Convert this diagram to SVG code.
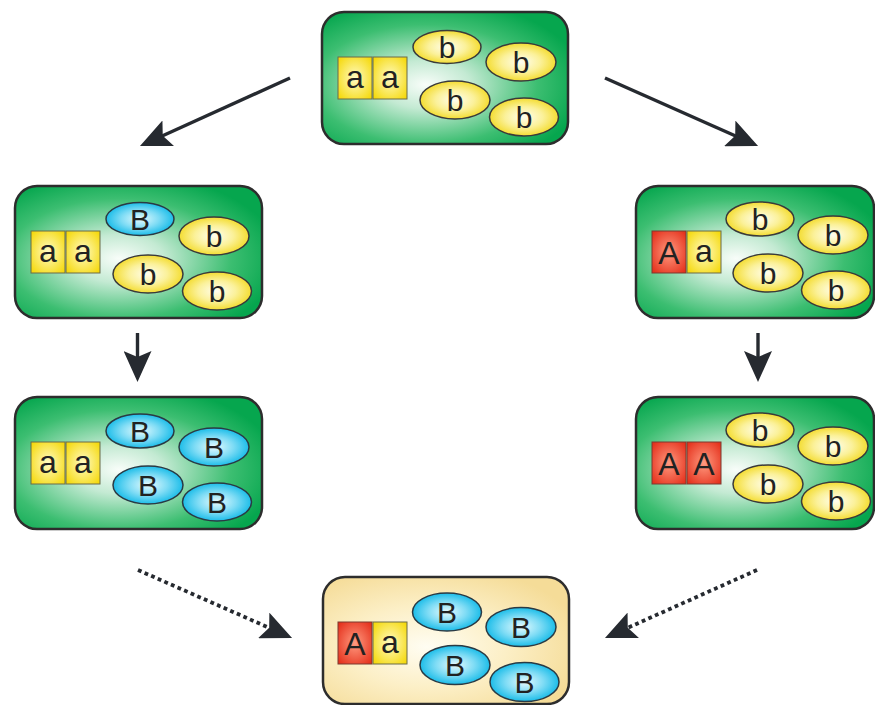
<svg xmlns="http://www.w3.org/2000/svg" xmlns:xlink="http://www.w3.org/1999/xlink" width="875" height="705" viewBox="0 0 875 705">
<defs>
<radialGradient id="gGreen" cx="0.42" cy="0.55" r="0.65">
<stop offset="0" stop-color="#f8fdf9"/>
<stop offset="0.28" stop-color="#c4ead3"/>
<stop offset="0.7" stop-color="#3cbe71"/>
<stop offset="1" stop-color="#06a64e"/>
</radialGradient>
<radialGradient id="gCream" cx="0.42" cy="0.55" r="0.65">
<stop offset="0" stop-color="#fffdf2"/>
<stop offset="0.5" stop-color="#fcefc6"/>
<stop offset="1" stop-color="#f5dc98"/>
</radialGradient>
<radialGradient id="gYSq" cx="0.5" cy="0.5" r="0.65">
<stop offset="0" stop-color="#fffbc4"/>
<stop offset="1" stop-color="#f5d90c"/>
</radialGradient>
<radialGradient id="gRSq" cx="0.5" cy="0.5" r="0.65">
<stop offset="0" stop-color="#ff9a80"/>
<stop offset="1" stop-color="#e5311c"/>
</radialGradient>
<radialGradient id="gYEl" cx="0.5" cy="0.5" r="0.55">
<stop offset="0" stop-color="#fffef0"/>
<stop offset="0.5" stop-color="#fbf19a"/>
<stop offset="1" stop-color="#f2d81a"/>
</radialGradient>
<radialGradient id="gBEl" cx="0.5" cy="0.5" r="0.55">
<stop offset="0" stop-color="#e6fbff"/>
<stop offset="0.5" stop-color="#7fdcf5"/>
<stop offset="1" stop-color="#06b6e6"/>
</radialGradient>
<marker id="head" viewBox="0 0 31 28" refX="20" refY="14" markerWidth="31" markerHeight="28" markerUnits="userSpaceOnUse" orient="auto">
<path d="M0,0 L31,14 L0,28 L6,14 Z" fill="#262a30"/>
</marker>
</defs>
<style>
.box{stroke:#2d2d2d;stroke-width:2.5}
.green{fill:url(#gGreen)}
.cream{fill:url(#gCream)}
.ysq{fill:url(#gYSq);stroke:#6b6b4a;stroke-width:1}
.rsq{fill:url(#gRSq);stroke:#7a3a30;stroke-width:1}
.yel{fill:url(#gYEl);stroke:#3a3a3a;stroke-width:1.5}
.bel{fill:url(#gBEl);stroke:#2a3a44;stroke-width:1.5}
.t{font-family:"Liberation Sans",Arial,sans-serif;fill:#222;text-anchor:middle}
.ts{font-size:32px}
.te{font-size:30px}
.arr{fill:none;stroke:#262a30;stroke-width:3.4;marker-end:url(#head)}
.dot{fill:none;stroke:#262a30;stroke-width:3.8;stroke-dasharray:3.8 3.4;marker-end:url(#head)}
</style>

<g id="connectors">
<line class="arr" x1="290" y1="78" x2="150" y2="141.5"/>
<line class="arr" x1="605" y1="78" x2="748" y2="141.5"/>
<line class="arr" x1="137.5" y1="333" x2="137.5" y2="371"/>
<line class="arr" x1="758" y1="333" x2="758" y2="371"/>
<line class="dot" x1="138" y1="570" x2="282" y2="633.5"/>
<line class="dot" x1="757" y1="570" x2="615" y2="633.5"/>
</g>

<g id="top" transform="translate(322,12)">
<rect class="box green" x="0" y="0" width="246" height="132" rx="22"/>
<rect class="ysq" x="16" y="45" width="34" height="42"/>
<rect class="ysq" x="51" y="45" width="34" height="42"/>
<text class="t ts" x="33" y="76">a</text>
<text class="t ts" x="68" y="76">a</text>
<ellipse class="yel" cx="125" cy="35" rx="34" ry="16.5"/>
<ellipse class="yel" cx="199" cy="50" rx="35" ry="19"/>
<ellipse class="yel" cx="133" cy="88" rx="35" ry="19"/>
<ellipse class="yel" cx="202" cy="105" rx="34.5" ry="19"/>
<text class="t te" x="125" y="46">b</text>
<text class="t te" x="199" y="61">b</text>
<text class="t te" x="133" y="99">b</text>
<text class="t te" x="202" y="116">b</text>
</g>

<g id="left1" transform="translate(15,186)">
<rect class="box green" x="0" y="0" width="247" height="132" rx="22"/>
<rect class="ysq" x="16" y="45" width="34" height="42"/>
<rect class="ysq" x="51" y="45" width="34" height="42"/>
<text class="t ts" x="33" y="76">a</text>
<text class="t ts" x="68" y="76">a</text>
<ellipse class="bel" cx="125" cy="33" rx="34" ry="16.5"/>
<ellipse class="yel" cx="199" cy="50" rx="35" ry="19"/>
<ellipse class="yel" cx="133" cy="88" rx="35" ry="19"/>
<ellipse class="yel" cx="202" cy="105" rx="34.5" ry="19"/>
<text class="t te" x="125" y="44">B</text>
<text class="t te" x="199" y="61">b</text>
<text class="t te" x="133" y="99">b</text>
<text class="t te" x="202" y="116">b</text>
</g>

<g id="left2" transform="translate(15,397)">
<rect class="box green" x="0" y="0" width="247" height="132" rx="22"/>
<rect class="ysq" x="16" y="45" width="34" height="42"/>
<rect class="ysq" x="51" y="45" width="34" height="42"/>
<text class="t ts" x="33" y="76">a</text>
<text class="t ts" x="68" y="76">a</text>
<ellipse class="bel" cx="125" cy="34" rx="34" ry="17"/>
<ellipse class="bel" cx="199" cy="50" rx="35" ry="19"/>
<ellipse class="bel" cx="133" cy="88" rx="35" ry="19"/>
<ellipse class="bel" cx="202" cy="105" rx="34.5" ry="19"/>
<text class="t te" x="125" y="45">B</text>
<text class="t te" x="199" y="61">B</text>
<text class="t te" x="133" y="99">B</text>
<text class="t te" x="202" y="116">B</text>
</g>

<g id="right1" transform="translate(636,186)">
<rect class="box green" x="0" y="0" width="238" height="132" rx="22"/>
<rect class="rsq" x="16" y="45" width="34" height="42"/>
<rect class="ysq" x="51" y="45" width="34" height="42"/>
<text class="t ts" x="33" y="78">A</text>
<text class="t ts" x="68" y="76">a</text>
<ellipse class="yel" cx="124" cy="33" rx="34" ry="17"/>
<ellipse class="yel" cx="197" cy="49" rx="35" ry="19"/>
<ellipse class="yel" cx="132" cy="87" rx="35" ry="19"/>
<ellipse class="yel" cx="200" cy="104" rx="34.5" ry="19"/>
<text class="t te" x="124" y="44">b</text>
<text class="t te" x="197" y="60">b</text>
<text class="t te" x="132" y="98">b</text>
<text class="t te" x="200" y="115">b</text>
</g>

<g id="right2" transform="translate(636,397)">
<rect class="box green" x="0" y="0" width="238" height="132" rx="22"/>
<rect class="rsq" x="16" y="45" width="34" height="42"/>
<rect class="rsq" x="51" y="45" width="34" height="42"/>
<text class="t ts" x="33" y="78">A</text>
<text class="t ts" x="68" y="78">A</text>
<ellipse class="yel" cx="124" cy="33" rx="34" ry="17"/>
<ellipse class="yel" cx="197" cy="49" rx="35" ry="19"/>
<ellipse class="yel" cx="132" cy="87" rx="35" ry="19"/>
<ellipse class="yel" cx="200" cy="104" rx="34.5" ry="19"/>
<text class="t te" x="124" y="44">b</text>
<text class="t te" x="197" y="60">b</text>
<text class="t te" x="132" y="98">b</text>
<text class="t te" x="200" y="115">b</text>
</g>

<g id="bottom" transform="translate(323,577)">
<rect class="box cream" x="0" y="0" width="246" height="127" rx="22"/>
<rect class="rsq" x="15" y="45" width="34" height="42"/>
<rect class="ysq" x="50" y="45" width="34" height="42"/>
<text class="t ts" x="32" y="78">A</text>
<text class="t ts" x="67" y="76">a</text>
<ellipse class="bel" cx="124" cy="35" rx="34.5" ry="19"/>
<ellipse class="bel" cx="198" cy="50" rx="35" ry="19.5"/>
<ellipse class="bel" cx="132" cy="88" rx="35" ry="19.5"/>
<ellipse class="bel" cx="201.5" cy="105" rx="34.5" ry="19.5"/>
<text class="t te" x="124" y="46">B</text>
<text class="t te" x="198" y="61">B</text>
<text class="t te" x="132" y="99">B</text>
<text class="t te" x="201.5" y="116">B</text>
</g>
</svg>
